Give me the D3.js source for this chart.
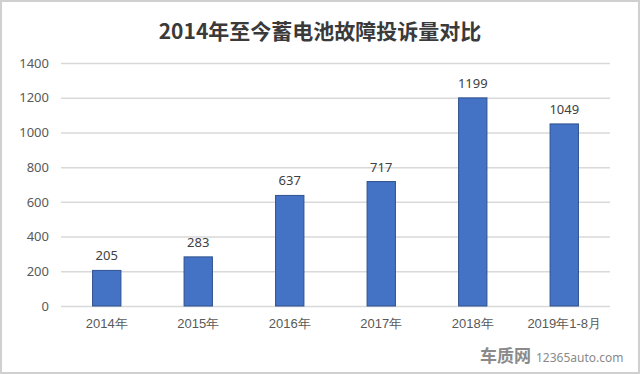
<!DOCTYPE html>
<html>
<head>
<meta charset="utf-8">
<script src="https://cdn.jsdelivr.net/npm/d3@7"></script>
<style>
    body { margin: 0; background: #fff; }
    svg { display: block; font-family: 'Noto Sans CJK SC', 'Noto Sans', sans-serif; }
</style>
</head>
<body>
<svg width="640" height="374"></svg>
<script>
const categories = ['2014年', '2015年', '2016年', '2017年', '2018年', '2019年1-8月'];
const complaints = [205, 283, 637, 717, 1199, 1049];
const yTicks = [0, 200, 400, 600, 800, 1000, 1200, 1400];

const svg = d3.select('svg');
const W = +svg.attr('width');
const H = +svg.attr('height');

const margin = { top: 63, right: 30, bottom: 68, left: 61 };
const width = W - margin.left - margin.right;
const height = H - margin.top - margin.bottom;

// outer frame
svg.append('rect')
    .attr('x', 1).attr('y', 1)
    .attr('width', W - 2).attr('height', H - 2)
    .attr('fill', '#fff')
    .attr('stroke', '#d0d0d0')
    .attr('stroke-width', 2);

svg.append('text')
    .attr('x', W / 2)
    .attr('y', 39)
    .attr('text-anchor', 'middle')
    .style('font-size', '21px')
    .style('font-weight', 'bold')
    .style('fill', '#3a3a3a')
    .text('2014年至今蓄电池故障投诉量对比');

const chart = svg.append('g')
    .attr('transform', `translate(${margin.left},${margin.top})`);

const xScale = d3.scaleBand()
    .domain(categories)
    .range([0, width])
    .paddingInner(0.69)
    .paddingOuter(0.345);

const yScale = d3.scaleLinear()
    .domain([0, 1400])
    .range([height, 0]);

// gridlines + y labels
const yAxis = chart.append('g')
    .call(d3.axisLeft(yScale).tickValues(yTicks).tickFormat(d3.format('d')).tickSize(-width).tickPadding(12));
yAxis.select('.domain').remove();
yAxis.selectAll('.tick line').attr('stroke', '#d9d9d9').attr('stroke-width', 1.5);
yAxis.selectAll('.tick text')
    .style('font-size', '13px')
    .style('fill', '#595959')
    .style('font-family', "'Noto Sans', sans-serif");

// x labels
const xAxis = chart.append('g')
    .attr('transform', `translate(0,${height})`)
    .call(d3.axisBottom(xScale).tickSize(0).tickPadding(13));
xAxis.select('.domain').remove();
xAxis.selectAll('.tick text')
    .style('font-size', '13px')
    .style('fill', '#595959');

chart.selectAll('.bar')
    .data(complaints)
    .enter()
    .append('rect')
    .attr('class', 'bar')
    .attr('x', (d, i) => xScale(categories[i]))
    .attr('y', d => yScale(d))
    .attr('width', xScale.bandwidth())
    .attr('height', d => height - yScale(d))
    .attr('fill', '#4472c4')
    .attr('stroke', '#2f528f')
    .attr('stroke-width', 1);

chart.selectAll('.label')
    .data(complaints)
    .enter()
    .append('text')
    .attr('class', 'label')
    .attr('x', (d, i) => xScale(categories[i]) + xScale.bandwidth() / 2)
    .attr('y', d => yScale(d) - 10)
    .attr('text-anchor', 'middle')
    .style('font-size', '13px')
    .style('fill', '#404040')
    .style('font-family', "'Noto Sans', sans-serif")
    .text(d => d);

// watermark
const wm = svg.append('g').attr('transform', 'translate(480,362)');
wm.append('text')
    .attr('x', 0)
    .style('font-size', '17px')
    .style('font-weight', 'bold')
    .style('fill', '#8a8a8a')
    .text('车质网');
wm.append('text')
    .attr('x', 56)
    .style('font-size', '12px')
    .style('fill', '#8a8a8a')
    .style('font-family', "'Noto Sans', sans-serif")
    .text('12365auto.com');
</script>
</body>
</html>
